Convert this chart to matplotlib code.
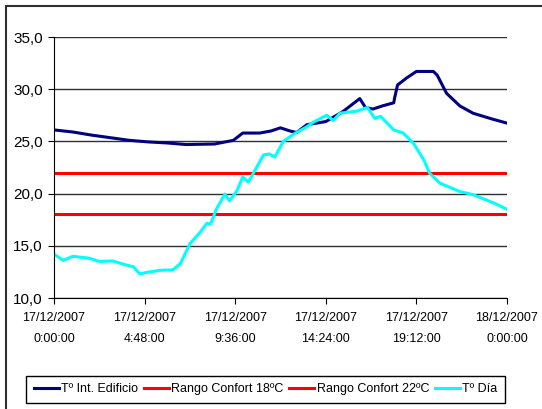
import numpy as np
import matplotlib.pyplot as plt
from matplotlib.patches import Rectangle

# hours since 17/12/2007 0:00
t_int_h = [0, 1, 2, 3, 4, 5, 6, 7, 8.5, 9.5, 10, 10.9, 11.5, 12, 12.5, 12.85, 13.4,
           14.4, 15.3, 16.2, 16.5, 16.9, 17.4, 18.0, 18.05, 18.2, 18.7, 19.2,
           20.1, 20.3, 20.8, 21.5, 22.2, 23.2, 24]
t_int = [26.1, 25.9, 25.6, 25.35, 25.1, 24.95, 24.85, 24.7, 24.75, 25.1, 25.8, 25.8,
         26.0, 26.3, 26.0, 25.85, 26.6, 26.9, 27.85, 29.1, 28.25, 28.1, 28.4, 28.7,
         29.2, 30.4, 31.1, 31.7, 31.7, 31.35, 29.6, 28.4, 27.7, 27.15, 26.75]

t_dia_h = [0, 0.5, 1.0, 1.9, 2.4, 3.1, 3.85, 4.2, 4.55, 4.9, 5.6, 6.3, 6.7, 7.2, 7.7,
           8.1, 8.3, 8.6, 9.05, 9.3, 9.7, 10.0, 10.3, 10.7, 11.1, 11.4, 11.7, 12.15,
           12.7, 13.4, 13.75, 14.45, 14.8, 15.15, 16.05, 16.6, 17.0, 17.3, 18.0,
           18.5, 19.05, 19.6, 19.9, 20.45, 20.97, 21.5, 22.2, 23.3, 24]
t_dia = [14.2, 13.6, 14.0, 13.8, 13.5, 13.55, 13.15, 13.0, 12.3, 12.45, 12.65, 12.7,
         13.3, 15.2, 16.2, 17.15, 17.1, 18.5, 19.95, 19.3, 20.3, 21.6, 21.1, 22.4,
         23.7, 23.8, 23.5, 25.0, 25.7, 26.4, 26.85, 27.5, 27.0, 27.7, 27.9, 28.25,
         27.2, 27.4, 26.1, 25.8, 24.8, 23.2, 21.95, 21.0, 20.6, 20.2, 19.9, 19.1, 18.5]

confort_18 = 18
confort_22 = 22

tick_h = [0, 4.8, 9.6, 14.4, 19.2, 24]
tick_lab = ['17/12/2007\n0:00:00', '17/12/2007\n4:48:00', '17/12/2007\n9:36:00',
            '17/12/2007\n14:24:00', '17/12/2007\n19:12:00', '18/12/2007\n0:00:00']
y_ticks = [10, 15, 20, 25, 30, 35]

plt.rcParams['font.family'] = ['Liberation Sans', 'DejaVu Sans']

fig = plt.figure(figsize=(5.42, 4.09), dpi=100)
ax = fig.add_axes([54/542, 1 - 298/409, (507-54)/542, (298-37)/409])

ax.plot(t_int_h, t_int, color='#000080', lw=2.2, label='Tº Int. Edificio')
ax.plot([0, 24], [confort_18]*2, color='#ff0000', lw=2.2, label='Rango Confort 18ºC')
ax.plot([0, 24], [confort_22]*2, color='#ff0000', lw=2.2, label='Rango Confort 22ºC')
ax.plot(t_dia_h, t_dia, color='#00ffff', lw=2.2, label='Tº Día')

ax.set_xlim(0, 24)
ax.set_ylim(10, 35)
ax.set_yticks(y_ticks)
ax.set_yticklabels([('%.1f' % v).replace('.', ',') for v in y_ticks], fontsize=11)
ax.set_xticks(tick_h)
ax.set_xticklabels(tick_lab, fontsize=9, linespacing=2.0)
ax.yaxis.grid(True, color='#303030', lw=1)
ax.set_axisbelow(True)
for s in ['top', 'right']:
    ax.spines[s].set_visible(False)
ax.tick_params(axis='both', direction='out', length=4, color='black', pad=4)
ax.tick_params(axis='x', pad=6)

leg = fig.legend(loc='center', bbox_to_anchor=(265.5/542, 1 - 389/409),
                 ncol=4, fontsize=9, frameon=True, fancybox=False,
                 handlelength=2.0, handletextpad=0.2, columnspacing=0.45,
                 borderpad=0.6)
leg.get_frame().set_edgecolor('black')
leg.get_frame().set_linewidth(1)
leg.get_frame().set_alpha(1)

fig.add_artist(Rectangle((6/542, -0.05), 1.0, 1 - 6/409 + 0.05, transform=fig.transFigure,
                         fill=False, edgecolor='#303030', lw=1.5))

fig.savefig('out.png', dpi=100)
